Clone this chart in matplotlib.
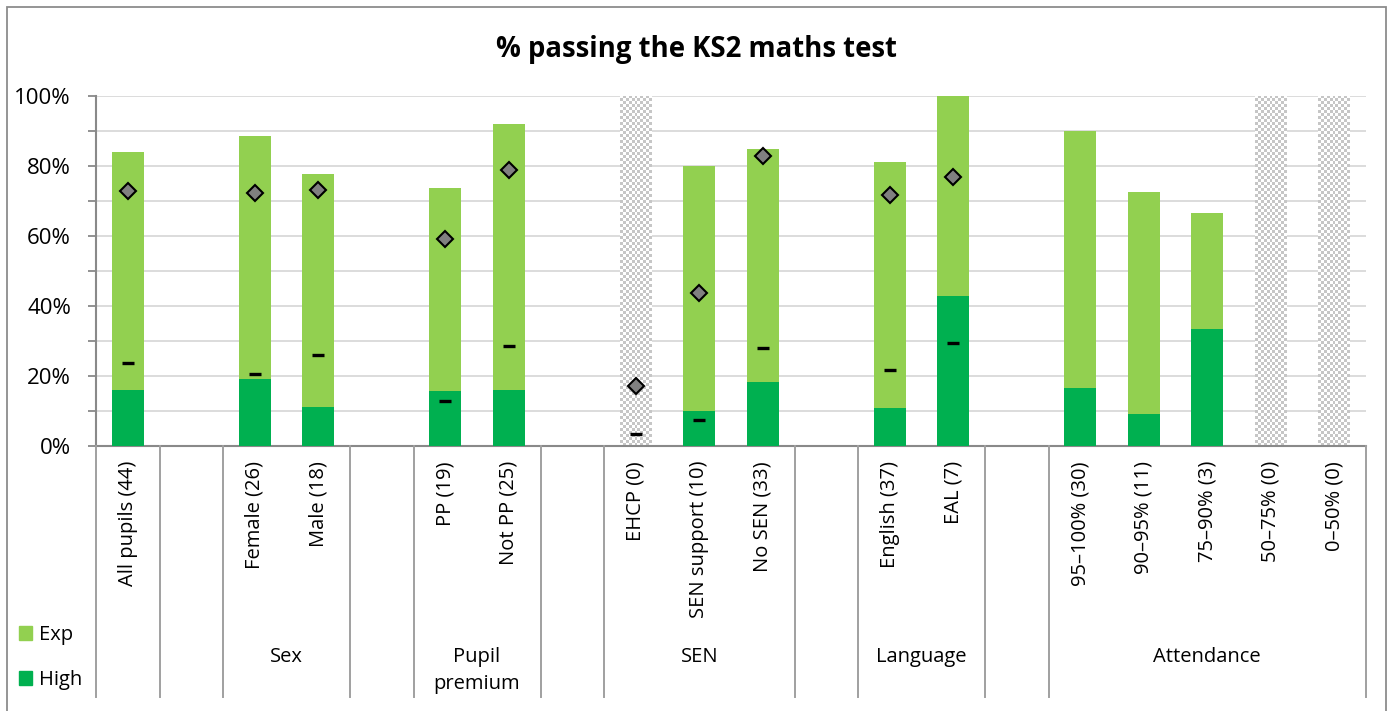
import numpy as np
import matplotlib
matplotlib.use("Agg")
import matplotlib.pyplot as plt
from matplotlib.patches import Patch, Rectangle
from matplotlib.colors import ListedColormap
from matplotlib import transforms

plt.rcParams["font.family"] = ["Open Sans", "DejaVu Sans"]

# ---- data: one slot per category, empty strings are spacer slots ----
cats = ["All pupils (44)", "", "Female (26)", "Male (18)", "",
        "PP (19)", "Not PP (25)", "", "EHCP (0)", "SEN support (10)",
        "No SEN (33)", "", "English (37)", "EAL (7)", "",
        "95–100% (30)", "90–95% (11)", "75–90% (3)", "50–75% (0)", "0–50% (0)"]
counts = [44, None, 26, 18, None, 19, 25, None, 0, 10,
          33, None, 37, 7, None, 30, 11, 3, 0, 0]
nan = np.nan
# % reaching expected standard / higher standard (school)
exp_pct = [84.1, nan, 88.5, 77.8, nan, 73.7, 92.0, nan, nan, 80.0,
           84.8, nan, 81.1, 100.0, nan, 90.0, 72.7, 66.7, nan, nan]
high_pct = [15.9, nan, 19.2, 11.1, nan, 15.8, 16.0, nan, nan, 10.0,
            18.2, nan, 10.8, 42.9, nan, 16.7, 9.1, 33.3, nan, nan]
# national comparison figures
nat_exp = [72.9, nan, 72.3, 73.2, nan, 59.2, 78.8, nan, 17.1, 43.7,
           82.8, nan, 71.8, 76.9, nan, nan, nan, nan, nan, nan]
nat_high = [23.7, nan, 20.7, 26.1, nan, 12.8, 28.5, nan, 3.4, 7.5,
            28.1, nan, 21.8, 29.3, nan, nan, nan, nan, nan, nan]

# second-level groups: (label, first slot, last slot + 1)
groups = [("", 0, 1), ("", 1, 2), ("Sex", 2, 4), ("", 4, 5),
          ("Pupil\npremium", 5, 7), ("", 7, 8), ("SEN", 8, 11), ("", 11, 12),
          ("Language", 12, 14), ("", 14, 15), ("Attendance", 15, 20)]

C_EXP, C_HIGH = "#92D050", "#00B050"
GREY = "#898989"

W, H = 1392, 711
fig = plt.figure(figsize=(W / 100, H / 100), dpi=100)
ax = fig.add_axes([96 / W, 265 / H, 1270 / W, 350 / H])

x = np.arange(len(cats))
exp_a, high_a = np.array(exp_pct), np.array(high_pct)
ok = ~np.isnan(exp_a)
ax.bar(x[ok], exp_a[ok], width=0.5, color=C_EXP, zorder=2)
ax.bar(x[ok], high_a[ok], width=0.5, color=C_HIGH, zorder=3)

# groups with no pupils get a dotted grey band over the full range
cb = np.indices((117, 11)).sum(axis=0) % 2
for i, n in enumerate(counts):
    if n == 0:
        ax.imshow(cb, extent=[i - 0.25, i + 0.25, 0, 100], aspect="auto",
                  cmap=ListedColormap(["white", "#C6C6C6"]),
                  interpolation="nearest", zorder=1.5)

ax.plot(x, nat_exp, ls="none", marker="D", ms=8.5, mfc="#808080",
        mec="black", mew=1.5, zorder=4)
ax.plot(x, nat_high, ls="none", marker="_", ms=8, mew=2.4,
        color="black", zorder=4)

ax.set_xlim(-0.5, len(cats) - 0.5)
ax.set_ylim(0, 100)
yt = np.arange(0, 101, 10)
ax.set_yticks(yt)
ax.set_yticklabels([f"{v}%" if v % 20 == 0 else "" for v in yt])
ax.yaxis.grid(True, color="#DCDCDC", lw=1.4)
ax.set_axisbelow(True)
ax.set_xticks([])
ax.tick_params(axis="y", length=6, width=1.3, color=GREY, pad=12,
               labelsize=16)
for s in ("top", "right"):
    ax.spines[s].set_visible(False)
for s in ("left", "bottom"):
    ax.spines[s].set_color(GREY)
    ax.spines[s].set_linewidth(1.5)

# multi-level category axis below the plot
blend = transforms.blended_transform_factory(ax.transData, fig.transFigure)
for xi, lab in zip(x, cats):
    if lab:
        ax.text(xi, 1 - 461 / H, lab, rotation=90, ha="center", va="top",
                fontsize=14.5, transform=blend, clip_on=False)
bounds = sorted({g[1] for g in groups} | {groups[-1][2]})
for b in bounds:
    ax.plot([b - 0.5, b - 0.5], [1 - 446 / H, 1 - 697 / H], color="#A0A0A0",
            lw=1.4, transform=blend, clip_on=False, zorder=5)
for lab, a, b in groups:
    if lab:
        ax.text((a + b - 1) / 2, 1 - 647 / H, lab, ha="center", va="top",
                fontsize=14.5, linespacing=1.45, transform=blend, clip_on=False)

fig.legend(handles=[Patch(color=C_EXP, label="Exp"),
                    Patch(color=C_HIGH, label="High")],
           loc="upper left", bbox_to_anchor=(19 / W, 1 - 625 / H),
           frameon=False, fontsize=14.5, handlelength=0.65, handleheight=0.65,
           handletextpad=0.35, labelspacing=1.25, borderpad=0, borderaxespad=0)

fig.text(696 / W, 1 - 50 / H, "% passing the KS2 maths test", ha="center",
         va="center", fontsize=19.8, fontweight="bold")

fig.add_artist(Rectangle((7 / W, -0.05), (1386 - 7) / W, 1 - 7 / H + 0.05,
                         transform=fig.transFigure, fill=False,
                         ec="#8C8C8C", lw=1.3))

fig.savefig("out.png", dpi=100)
